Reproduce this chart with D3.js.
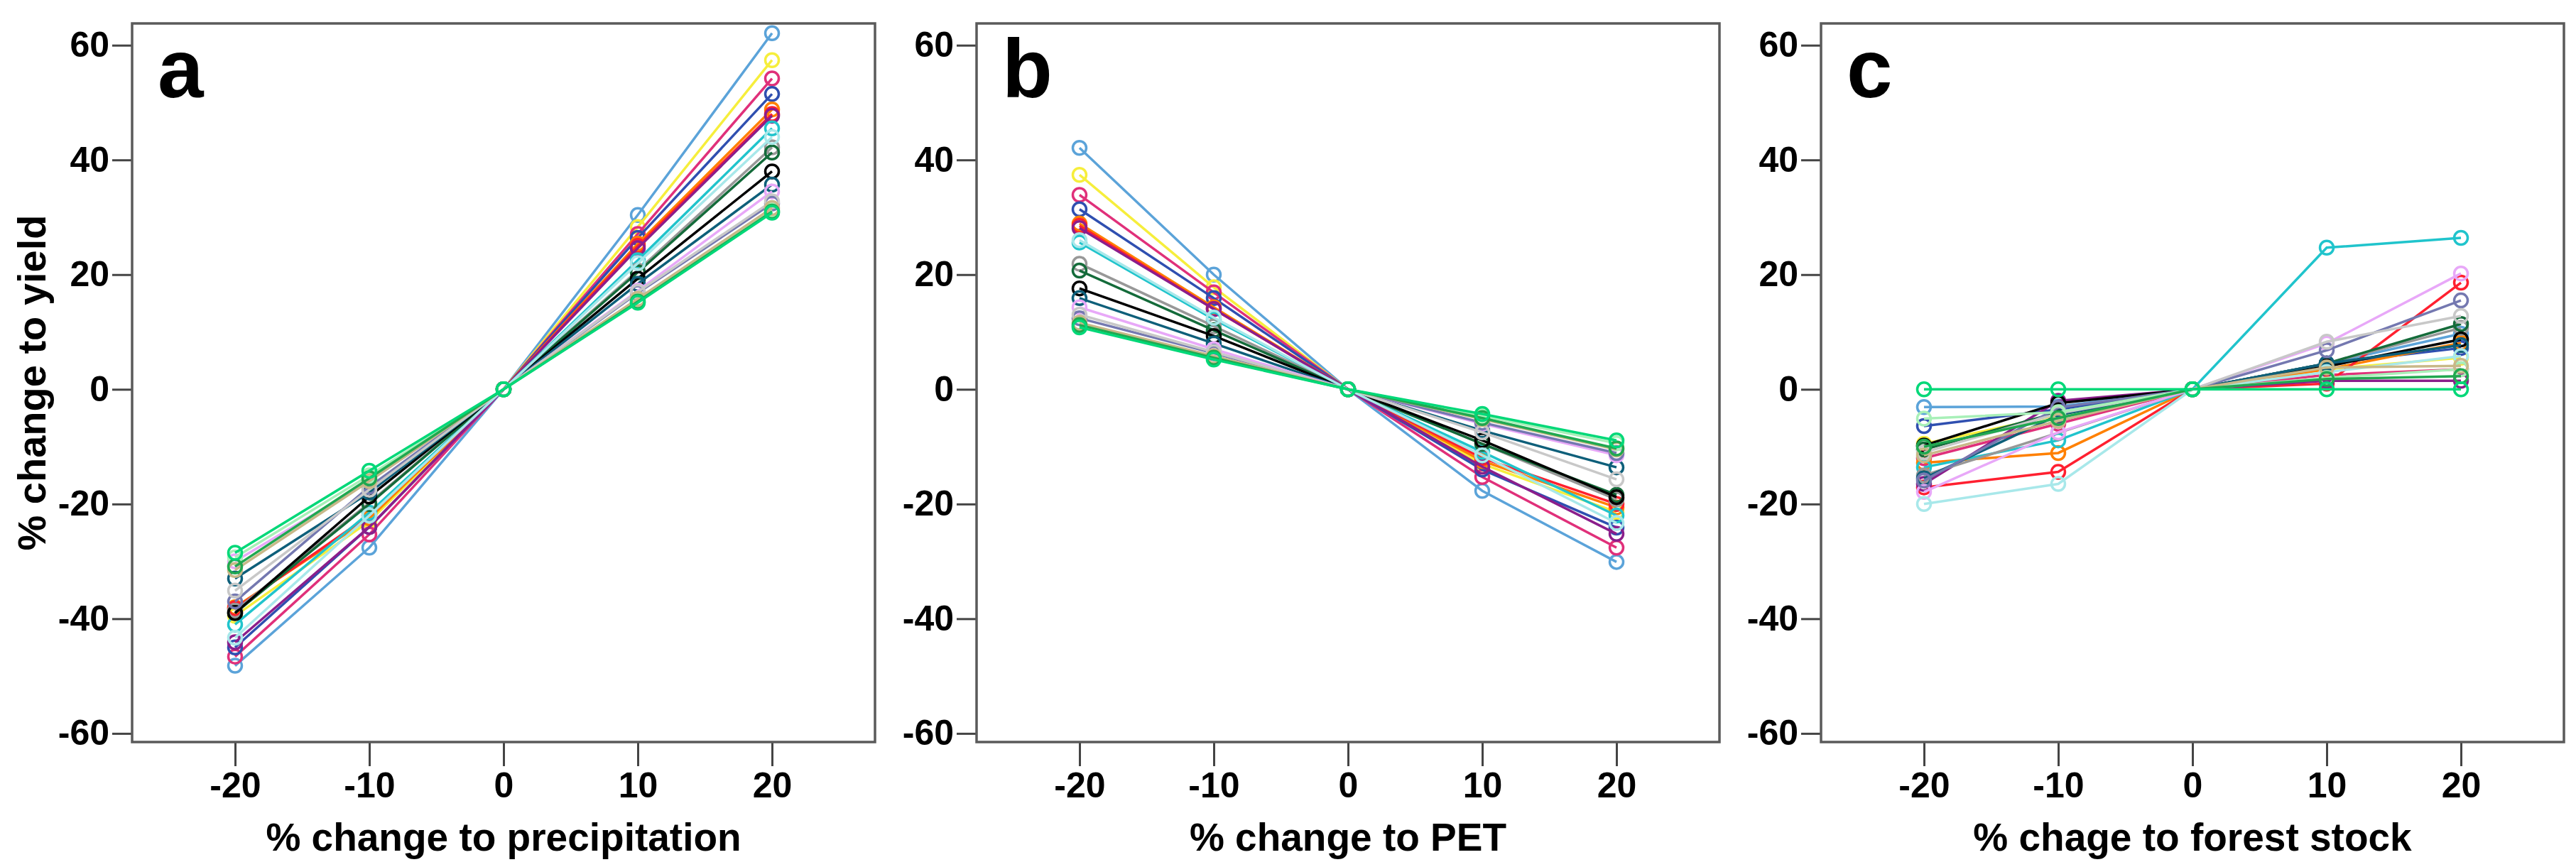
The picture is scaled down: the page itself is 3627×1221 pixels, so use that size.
<!DOCTYPE html>
<html>
<head>
<meta charset="utf-8">
<script src="https://cdn.jsdelivr.net/npm/d3@7"></script>
<style>
  body { margin: 0; background: #fff; }
  svg text { font-family: "Liberation Sans", Arial, sans-serif; font-weight: bold; fill: #000; }
</style>
</head>
<body>
<svg id="chart"></svg>
<script>
const width = 3627;
const height = 1221;

// x levels shared by all three panels
const xLevels = [-20, -10, 0, 10, 20];
const yTicks = [-60, -40, -20, 0, 20, 40, 60];

const seriesNames = ["s1", "s2", "s3", "s4", "s5", "s6", "s7", "s8", "s9", "s10",
  "s11", "s12", "s13", "s14", "s15", "s19", "s20", "s16", "s17", "s18"];
const seriesColors = ["#5ba3d9", "#f6ee3c", "#e0307a", "#2f4fb0", "#ff8000", "#ff2030",
  "#8b1e8b", "#20c4cc", "#989898", "#146b3a", "#000000", "#0e5f7a", "#e8a8f8",
  "#7478b0", "#c8c8c8", "#a8e8ea", "#a8f0b8", "#c8b888", "#20a850", "#00d878"];

// % change to yield, one row per series, columns follow xLevels
const precipYield = [
  [-48.2, -27.6, 0, 30.4, 62.1],
  [-39.5, -23.0, 0, 28.3, 57.4],
  [-46.6, -25.3, 0, 27.1, 54.2],
  [-45.0, -24.0, 0, 26.4, 51.5],
  [-38.0, -22.5, 0, 25.4, 48.8],
  [-38.2, -22.0, 0, 25.0, 48.0],
  [-44.1, -24.0, 0, 24.6, 47.7],
  [-41.0, -21.5, 0, 22.5, 45.5],
  [-38.6, -19.8, 0, 20.7, 42.2],
  [-39.0, -20.0, 0, 20.4, 41.3],
  [-39.0, -18.7, 0, 19.3, 38.0],
  [-33.0, -18.0, 0, 18.4, 35.7],
  [-30.0, -16.0, 0, 17.2, 34.5],
  [-37.0, -17.0, 0, 16.8, 32.4],
  [-35.1, -17.5, 0, 17.0, 32.8],
  [-43.3, -22.0, 0, 22.0, 44.0],
  [-29.3, -15.0, 0, 15.5, 31.2],
  [-31.5, -16.0, 0, 15.8, 31.6],
  [-30.9, -15.5, 0, 15.3, 31.0],
  [-28.5, -14.2, 0, 15.1, 30.8]
];

const petYield = [
  [42.1, 20.0, 0, -17.7, -30.1],
  [37.4, 17.8, 0, -13.0, -21.4],
  [33.9, 16.9, 0, -15.3, -27.6],
  [31.4, 15.9, 0, -14.0, -24.1],
  [28.9, 14.3, 0, -12.5, -20.6],
  [28.5, 14.0, 0, -12.0, -20.0],
  [28.1, 14.0, 0, -13.5, -25.2],
  [25.6, 12.2, 0, -10.9, -22.0],
  [21.9, 11.0, 0, -9.5, -19.2],
  [20.7, 10.3, 0, -9.5, -18.4],
  [17.6, 9.3, 0, -8.9, -18.8],
  [15.9, 8.0, 0, -7.2, -13.6],
  [14.3, 7.0, 0, -6.0, -11.5],
  [12.4, 6.3, 0, -5.8, -11.1],
  [13.0, 6.5, 0, -7.5, -15.7],
  [26.0, 12.5, 0, -11.5, -23.3],
  [11.0, 5.3, 0, -4.6, -9.4],
  [11.6, 5.8, 0, -5.2, -10.5],
  [11.2, 5.5, 0, -5.0, -10.3],
  [10.8, 5.2, 0, -4.3, -8.9]
];

const forestYield = [
  [-3.1, -3.0, 0, 4.5, 9.7],
  [-9.5, -4.5, 0, 3.5, 5.5],
  [-12.0, -6.0, 0, 2.5, 3.5],
  [-6.4, -3.5, 0, 4.5, 7.2],
  [-12.8, -11.1, 0, 3.5, 8.1],
  [-17.1, -14.4, 0, 1.0, 18.6],
  [-16.5, -2.0, 0, 1.5, 1.5],
  [-13.6, -8.9, 0, 24.7, 26.4],
  [-15.0, -7.6, 0, 4.5, 10.7],
  [-10.5, -4.0, 0, 4.5, 11.4],
  [-9.8, -2.4, 0, 4.0, 8.7],
  [-15.5, -4.5, 0, 4.5, 7.7],
  [-17.9, -7.5, 0, 8.0, 20.2],
  [-15.9, -3.2, 0, 6.8, 15.5],
  [-11.0, -4.2, 0, 8.3, 12.8],
  [-20.0, -16.5, 0, 3.0, 5.8],
  [-5.1, -4.0, 0, 2.0, 3.5],
  [-11.5, -5.5, 0, 3.8, 4.1],
  [-10.0, -5.0, 0, 1.8, 2.3],
  [0, 0, 0, 0, 0]
];

const panelLetters = ["a", "b", "c"];
const xTitles = ["% change to precipitation", "% change to PET", "% chage to forest stock"];
const yTitle = "% change to yield";
const panelData = [precipYield, petYield, forestYield];

// layout
const panelLeft = [186, 1375, 2564];
const panelWidth = 1046;
const plotTop = 33;
const plotBottom = 1045;

const svg = d3.select("#chart")
    .attr("width", width)
    .attr("height", height);

panelData.forEach((rows, p) => {
    const left = panelLeft[p];

    const xScale = d3.scaleLinear()
        .domain([-27.67, 27.67])
        .range([left, left + panelWidth]);

    const yScale = d3.scaleLinear()
        .domain([-61.5, 63.8])
        .range([plotBottom, plotTop]);

    const g = svg.append("g").attr("class", "panel");

    // plain hyphen for negatives, like the original
    const fmt = d => String(d);
    const xAxis = d3.axisBottom(xScale).tickValues(xLevels).tickFormat(fmt).tickSize(34).tickPadding(8);
    const yAxis = d3.axisLeft(yScale).tickValues(yTicks).tickFormat(fmt).tickSize(28).tickPadding(4);

    const gx = g.append("g")
        .attr("transform", `translate(0, ${plotBottom})`)
        .call(xAxis);
    const gy = g.append("g")
        .attr("transform", `translate(${left}, 0)`)
        .call(yAxis);

    [gx, gy].forEach(ax => {
        ax.select(".domain").remove();
        ax.selectAll(".tick line").attr("stroke", "#444").attr("stroke-width", 3);
        ax.selectAll(".tick text")
            .attr("font-size", 50)
            .attr("font-family", "'Liberation Sans', Arial, sans-serif")
            .attr("font-weight", "bold")
            .attr("fill", "#000");
    });

    // frame
    g.append("rect")
        .attr("x", left)
        .attr("y", plotTop)
        .attr("width", panelWidth)
        .attr("height", plotBottom - plotTop)
        .attr("fill", "none")
        .attr("stroke", "#5a5a5a")
        .attr("stroke-width", 3.5);

    const line = d3.line()
        .x((d, i) => xScale(xLevels[i]))
        .y(d => yScale(d));

    rows.forEach((vals, s) => {
        const sg = g.append("g").attr("class", "series " + seriesNames[s]);
        sg.append("path")
            .datum(vals)
            .attr("d", line)
            .attr("fill", "none")
            .attr("stroke", seriesColors[s])
            .attr("stroke-width", 3.5);
        sg.selectAll("circle")
            .data(vals)
            .enter()
            .append("circle")
            .attr("cx", (d, i) => xScale(xLevels[i]))
            .attr("cy", d => yScale(d))
            .attr("r", 9.5)
            .attr("fill", "none")
            .attr("stroke", seriesColors[s])
            .attr("stroke-width", 3.5);
    });

    // panel letter
    g.append("text")
        .attr("x", left + 36)
        .attr("y", 137)
        .attr("font-size", 116)
        .text(panelLetters[p]);

    // x axis title
    g.append("text")
        .attr("x", left + panelWidth / 2)
        .attr("y", 1198)
        .attr("text-anchor", "middle")
        .attr("font-size", 55)
        .text(xTitles[p]);
});

// y axis title on the first panel only
svg.append("text")
    .attr("transform", `translate(64, ${(plotTop + plotBottom) / 2}) rotate(-90)`)
    .attr("text-anchor", "middle")
    .attr("font-size", 56)
    .text(yTitle);
</script>
</body>
</html>
